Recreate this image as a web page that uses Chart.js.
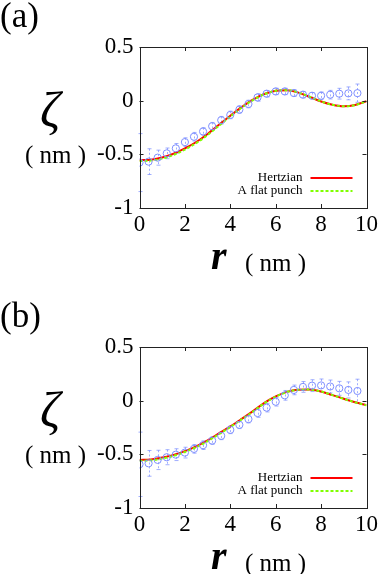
<!DOCTYPE html>
<html>
<head>
<meta charset="utf-8">
<script src="https://cdn.jsdelivr.net/npm/chart.js@4/dist/chart.umd.min.js"></script>
<style>
  html, body { margin: 0; padding: 0; background: #fff; overflow: hidden; }
  .panel { position: absolute; left: 0; width: 381px; height: 300px; }
  .panel canvas { position: absolute; left: 0; top: 0; }
  .lbl { position: absolute; font-family: "Liberation Serif", serif; color: #000; line-height: 1; white-space: pre; }
  .tag { font-size: 35px; left: 0; top: -2px; }
  .zeta { font-size: 50px; font-style: italic; left: 40px; top: 85px; }
  .unitY { font-size: 25px; left: 25px; top: 142px; }
  .rr { font-size: 40px; font-style: italic; font-weight: bold; left: 211px; top: 236px; }
  .unitX { font-size: 25px; left: 245px; top: 250px; }
</style>
</head>
<body>

<div class="panel" style="top:0px">
  <canvas id="chartA" width="381" height="300"></canvas>
  <div class="lbl tag">(a)</div>
  <div class="lbl zeta">ζ</div>
  <div class="lbl unitY">( nm )</div>
  <div class="lbl rr">r</div>
  <div class="lbl unitX">( nm )</div>
</div>

<div class="panel" style="top:300px">
  <canvas id="chartB" width="381" height="300"></canvas>
  <div class="lbl tag">(b)</div>
  <div class="lbl zeta">ζ</div>
  <div class="lbl unitY">( nm )</div>
  <div class="lbl rr">r</div>
  <div class="lbl unitX">( nm )</div>
</div>

<script>
// ---------- datos ----------
const xTicks = [0, 2, 4, 6, 8, 10];
const yTicks = [-1, -0.5, 0, 0.5];

// r para las curvas teoricas
const rCurve = [0, 0.5, 1, 1.5, 2, 2.5, 3, 3.5, 4, 4.5, 5, 5.5, 6, 6.5, 7, 7.5, 8, 8.5, 9, 9.5, 10];

const hertzA = [-0.555, -0.550, -0.530, -0.495, -0.445, -0.385, -0.310, -0.225, -0.140, -0.060, 0.010,
                0.062, 0.093, 0.098, 0.075, 0.035, -0.008, -0.038, -0.052, -0.040, -0.005];
const flatA  = [-0.562, -0.558, -0.540, -0.506, -0.456, -0.395, -0.320, -0.234, -0.148, -0.066, 0.006,
                0.060, 0.092, 0.098, 0.076, 0.036, -0.007, -0.038, -0.053, -0.041, -0.006];

const hertzB = [-0.552, -0.547, -0.530, -0.505, -0.470, -0.425, -0.370, -0.305, -0.240, -0.170, -0.098,
                -0.020, 0.040, 0.082, 0.102, 0.103, 0.085, 0.052, 0.018, -0.015, -0.042];
const flatB  = [-0.560, -0.556, -0.540, -0.514, -0.478, -0.433, -0.378, -0.312, -0.246, -0.175, -0.102,
                -0.024, 0.037, 0.080, 0.101, 0.103, 0.085, 0.052, 0.017, -0.016, -0.044];

// puntos de simulacion
const rData = [0, 0.4, 0.8, 1.2, 1.6, 2.0, 2.4, 2.8, 3.2, 3.6, 4.0, 4.4, 4.8,
               5.2, 5.6, 6.0, 6.4, 6.8, 7.2, 7.6, 8.0, 8.4, 8.8, 9.2, 9.6];

const zetaA = [-0.577, -0.568, -0.531, -0.491, -0.444, -0.386, -0.336, -0.287, -0.238, -0.182, -0.133, -0.083, -0.031,
               0.030, 0.065, 0.086, 0.086, 0.071, 0.056, 0.046, 0.046, 0.056, 0.065, 0.068, 0.070];
const errA  = [0.27, 0.12, 0.07, 0.05, 0.045, 0.04, 0.04, 0.035, 0.035, 0.035, 0.035, 0.035, 0.035,
               0.035, 0.03, 0.03, 0.03, 0.03, 0.03, 0.03, 0.035, 0.04, 0.05, 0.06, 0.085];

const zetaB = [-0.593, -0.584, -0.552, -0.527, -0.503, -0.484, -0.449, -0.415, -0.372, -0.328, -0.272, -0.225, -0.172,
               -0.115, -0.065, -0.010, 0.050, 0.100, 0.128, 0.140, 0.142, 0.132, 0.115, 0.100, 0.090];
const errB  = [0.30, 0.12, 0.09, 0.07, 0.055, 0.05, 0.04, 0.04, 0.035, 0.035, 0.035, 0.035, 0.035,
               0.04, 0.04, 0.04, 0.045, 0.045, 0.05, 0.055, 0.06, 0.06, 0.065, 0.075, 0.11];

const legendLabels = ["Hertzian", "A flat punch"];

// ---------- plugins ----------
const errorBars = {
  id: "errorBars",
  beforeDatasetsDraw(chart) {
    const ctx = chart.ctx, xs = chart.scales.x, ys = chart.scales.y;
    chart.data.datasets.forEach(ds => {
      if (!ds.errors) return;
      ctx.save();
      ctx.strokeStyle = "rgba(120,140,255,0.7)";
      ctx.lineWidth = 1;
      ds.data.forEach((p, i) => {
        const x = Math.round(xs.getPixelForValue(p.x)) + 0.5;
        const y1 = ys.getPixelForValue(p.y + ds.errors[i]);
        const y2 = ys.getPixelForValue(p.y - ds.errors[i]);
        ctx.setLineDash([2, 2]);
        ctx.beginPath(); ctx.moveTo(x, y1); ctx.lineTo(x, y2); ctx.stroke();
        ctx.setLineDash([]);
        ctx.beginPath();
        ctx.moveTo(x - 2, y1); ctx.lineTo(x + 2, y1);
        ctx.moveTo(x - 2, y2); ctx.lineTo(x + 2, y2);
        ctx.stroke();
      });
      ctx.restore();
    });
  }
};

const frameTicks = {
  id: "frameTicks",
  afterDatasetsDraw(chart) {
    const ctx = chart.ctx, a = chart.chartArea, xs = chart.scales.x, ys = chart.scales.y;
    ctx.save();
    ctx.strokeStyle = "#222";
    ctx.lineWidth = 1;
    ctx.strokeRect(Math.round(a.left) + 0.5, Math.round(a.top) + 0.5,
                   Math.round(a.right - a.left), Math.round(a.bottom - a.top));
    ctx.beginPath();
    xTicks.forEach(v => {
      const x = Math.round(xs.getPixelForValue(v)) + 0.5;
      ctx.moveTo(x, a.bottom); ctx.lineTo(x, a.bottom - 4);
      ctx.moveTo(x, a.top); ctx.lineTo(x, a.top + 4);
    });
    yTicks.forEach(v => {
      const y = Math.round(ys.getPixelForValue(v)) + 0.5;
      ctx.moveTo(a.left, y); ctx.lineTo(a.left + 4, y);
      ctx.moveTo(a.right, y); ctx.lineTo(a.right - 4, y);
    });
    ctx.stroke();
    ctx.restore();
  }
};

const keyBox = {
  id: "keyBox",
  afterDraw(chart) {
    const ctx = chart.ctx, a = chart.chartArea;
    const textRight = a.right - 64, lineL = a.right - 56, lineR = a.right - 14;
    const rows = [a.bottom - 30, a.bottom - 17];
    ctx.save();
    ctx.font = "13px 'Liberation Serif'";
    ctx.fillStyle = "#000";
    ctx.textAlign = "right";
    ctx.textBaseline = "middle";
    legendLabels.forEach((t, i) => ctx.fillText(t, textRight, rows[i]));
    ctx.lineWidth = 2;
    ctx.strokeStyle = "#ff0000";
    ctx.beginPath(); ctx.moveTo(lineL, rows[0]); ctx.lineTo(lineR, rows[0]); ctx.stroke();
    ctx.strokeStyle = "#80ff00";
    ctx.setLineDash([3, 2]);
    ctx.beginPath(); ctx.moveTo(lineL, rows[1]); ctx.lineTo(lineR, rows[1]); ctx.stroke();
    ctx.restore();
  }
};

// ---------- graficos ----------
function toPts(xs, ys) {
  return xs.map((x, i) => ({ x: x, y: ys[i] }));
}

function buildChart(id, hertz, flat, zeta, err) {
  const tickFont = { family: "'Liberation Serif'", size: 23 };
  return new Chart(document.getElementById(id), {
    type: "scatter",
    data: {
      datasets: [
        {
          label: "sim",
          data: toPts(rData, zeta),
          errors: err,
          showLine: false,
          pointRadius: 3.6,
          pointBorderWidth: 1,
          pointBorderColor: "#7f8fff",
          pointBackgroundColor: "rgba(0,0,0,0)"
        },
        {
          label: legendLabels[1],
          data: toPts(rCurve, flat),
          showLine: true,
          pointRadius: 0,
          borderColor: "#80ff00",
          borderWidth: 2,
          borderDash: [3, 2],
          cubicInterpolationMode: "monotone"
        },
        {
          label: legendLabels[0],
          data: toPts(rCurve, hertz),
          showLine: true,
          pointRadius: 0,
          borderColor: "#ff0000",
          borderWidth: 2,
          cubicInterpolationMode: "monotone"
        }
      ]
    },
    options: {
      responsive: false,
      devicePixelRatio: 1,
      animation: false,
      events: [],
      layout: { padding: { left: 0, right: 13.5, top: 47, bottom: 0 } },
      plugins: { legend: { display: false }, tooltip: { enabled: false } },
      scales: {
        x: {
          type: "linear", min: 0, max: 10,
          afterBuildTicks: s => { s.ticks = xTicks.map(v => ({ value: v })); },
          afterFit: s => { s.height = 92; },
          grid: { display: false, drawTicks: false },
          border: { display: false },
          ticks: { font: tickFont, color: "#000", padding: 3, maxRotation: 0, callback: v => String(v) }
        },
        y: {
          type: "linear", min: -1, max: 0.5,
          afterBuildTicks: s => { s.ticks = yTicks.map(v => ({ value: v })); },
          afterFit: s => { s.width = 139.5; },
          grid: { display: false, drawTicks: false },
          border: { display: false },
          ticks: { font: tickFont, color: "#000", padding: 6, callback: v => String(v) }
        }
      }
    },
    plugins: [errorBars, frameTicks, keyBox]
  });
}

buildChart("chartA", hertzA, flatA, zetaA, errA);
buildChart("chartB", hertzB, flatB, zetaB, errB);
</script>
</body>
</html>
